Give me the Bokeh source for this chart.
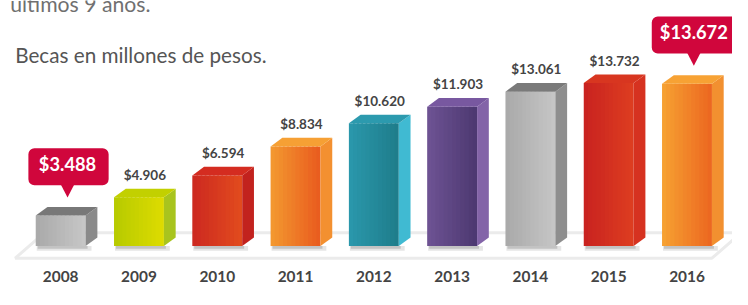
from bokeh.plotting import figure
from bokeh.models import Range1d
from bokeh.embed import file_html
from bokeh.resources import INLINE
from bokeh.core.properties import value

# ---------------- data ----------------
years = ["2008", "2009", "2010", "2011", "2012", "2013", "2014", "2015", "2016"]
becas = [3488, 4906, 6594, 8834, 10620, 11903, 13061, 13732, 13672]
destacados = ["2008", "2016"]
titulo = "Becas en millones de pesos."
encabezado = "últimos 9 años."

# ---------------- styles ----------------
front_left = ["#a9a9a9", "#b6ca00", "#cc2820", "#f39a30", "#2a98ac", "#6e5394", "#a9a9a9", "#c82220", "#f6a232"]
front_right = ["#c7c7c7", "#dedc00", "#e24c1e", "#e95a1e", "#1f7c8a", "#4c3870", "#c6c6c6", "#de3e20", "#ec6620"]
side_colors = ["#8a8a8a", "#a8c41e", "#c2221e", "#f39030", "#40bad2", "#8364a8", "#8e8e8e", "#d63220", "#f29030"]
top_colors = ["#787878", "#c2d000", "#d42c20", "#f6a034", "#2c9aae", "#7858a0", "#7a7a7a", "#d83620", "#f7a234"]
callout_color = "#d0063c"
text_color = "#444444"

# layout is designed on a 748x305 canvas and shown in a 732x289 figure
W, H = 732, 289
RW, RH = 748, 305
FS = 0.965        # font scale matching the shrink
PXX = 80.0        # design px between bar centres
K = 0.013667      # design px per unit of value
X0 = 61.5         # design px of first bar centre
Y0 = 274.7        # design px of value 0
TXT = 0.40        # baseline correction (fraction of font size)


def sx(px):
    return (px - X0) / PXX


def sy(py):
    return (Y0 - py) / K


def dxu(px):
    return px / PXX


def dyu(px):
    return px / K


def fs(px):
    return "%.1fpx" % (px * FS)


def mix(c1, c2, t):
    a = [int(c1[i:i + 2], 16) for i in (1, 3, 5)]
    b = [int(c2[i:i + 2], 16) for i in (1, 3, 5)]
    return "#%02x%02x%02x" % tuple(round(a[j] + (b[j] - a[j]) * t) for j in range(3))


p = figure(width=W, height=H, output_backend="svg", toolbar_location=None,
           x_range=Range1d(sx(0), sx(RW)), y_range=Range1d(sy(RH), sy(0)),
           x_axis_location=None, y_axis_location=None, min_border=0)
p.grid.visible = False
p.outline_line_color = None
p.background_fill_color = "white"

xs = list(range(len(years)))
BASE = sy(259)
BW = dxu(51)
DX = dxu(12)
DY = dyu(9)

# floor
fl = [(15, 272), (727, 272), (757, 245), (45, 245)]
p.patch([sx(a) for a, b in fl], [sy(b) for a, b in fl], fill_color="white",
        line_color="#ebebeb", line_width=3)

# shadows
p.quad(left=[x - BW / 2 + dxu(1) for x in xs], right=[x + BW / 2 + DX * 0.5 for x in xs],
       top=[BASE] * len(xs), bottom=[BASE - dyu(5)] * len(xs),
       fill_color="#000000", fill_alpha=0.10, line_color=None)
p.quad(left=[x - BW / 2 + dxu(2) for x in xs], right=[x + BW / 2 + dxu(2) for x in xs],
       top=[BASE] * len(xs), bottom=[BASE - dyu(3)] * len(xs),
       fill_color="#000000", fill_alpha=0.15, line_color=None)

# front faces (horizontal gradient approximated with strips)
N = 12
sl, sr, sb, st, sc = [], [], [], [], []
for i, x in enumerate(xs):
    for k in range(N):
        l = x - BW / 2 + BW * k / N
        r = l + BW / N * (1.0 if k == N - 1 else 1.4)
        sl.append(l)
        sr.append(r)
        sb.append(BASE)
        st.append(becas[i])
        sc.append(mix(front_left[i], front_right[i], (k + 0.5) / N))
p.quad(left=sl, right=sr, bottom=sb, top=st, fill_color=sc, line_color=None)

# side faces
side_xs = [[x + BW / 2, x + BW / 2 + DX, x + BW / 2 + DX, x + BW / 2] for x in xs]
side_ys = [[BASE, BASE + DY, v + DY, v] for v in becas]
p.patches(side_xs, side_ys, fill_color=side_colors, line_color=None)

# top faces
top_xs = [[x - BW / 2, x + BW / 2, x + BW / 2 + DX, x - BW / 2 + DX] for x in xs]
top_ys = [[v, v, v + DY, v + DY] for v in becas]
p.patches(top_xs, top_ys, fill_color=top_colors, line_color=None)


def fmt(v):
    return "$" + f"{v:,}".replace(",", ".")


# value labels
LF = 14
lx, ly, lt = [], [], []
for i, x in enumerate(xs):
    if years[i] in destacados:
        continue
    lx.append(x + DX / 2)
    ly.append(becas[i] + dyu(18 + TXT * LF))
    lt.append(fmt(becas[i]))
p.text(x=lx, y=ly, text=lt, text_align="center", text_baseline="alphabetic",
       text_font=value("Lato"), text_font_style="bold", text_font_size=fs(LF),
       text_color=text_color)

# callouts
CF = 19
for i, x in enumerate(xs):
    if years[i] not in destacados:
        continue
    v = becas[i]
    label = fmt(v)
    wpx = 82 + 6 * (len(label) - 6)
    cx = x + dxu(8)
    bb = v + dyu(32)
    bt = v + dyu(71)
    p.quad(left=[cx - dxu(wpx / 2)], right=[cx + dxu(wpx / 2)], bottom=[bb], top=[bt],
           fill_color=callout_color, line_color=None, border_radius=6)
    tx = x + dxu(7)
    p.patch([tx - dxu(7), tx + dxu(7), tx], [bb + dyu(1), bb + dyu(1), v + dyu(19)],
            fill_color=callout_color, line_color=None)
    p.text(x=[cx - dxu(1)], y=[bb + dyu(15 + TXT * CF)], text=[label], text_align="center",
           text_baseline="alphabetic", text_font=value("Lato"), text_font_style="bold",
           text_font_size=fs(CF), text_color="white")

# year labels
YF = 16
p.text(x=xs, y=[sy(298 - TXT * YF)] * len(xs), text=years, text_align="center",
       text_baseline="alphabetic", text_font=value("Lato"), text_font_style="bold",
       text_font_size=fs(YF), text_color=text_color)

# titles
TF, HF = 21.5, 22
p.text(x=[sx(15)], y=[sy(66 - TXT * TF)], text=[titulo], text_align="left",
       text_baseline="alphabetic", text_font=value("Lato"), text_font_size=fs(TF),
       text_color="#555555")
p.text(x=[sx(10)], y=[sy(13 - TXT * HF)], text=[encabezado], text_align="left",
       text_baseline="alphabetic", text_font=value("Lato"), text_font_size=fs(HF),
       text_color="#707070")

open("out.html", "w").write(file_html(p, INLINE))
